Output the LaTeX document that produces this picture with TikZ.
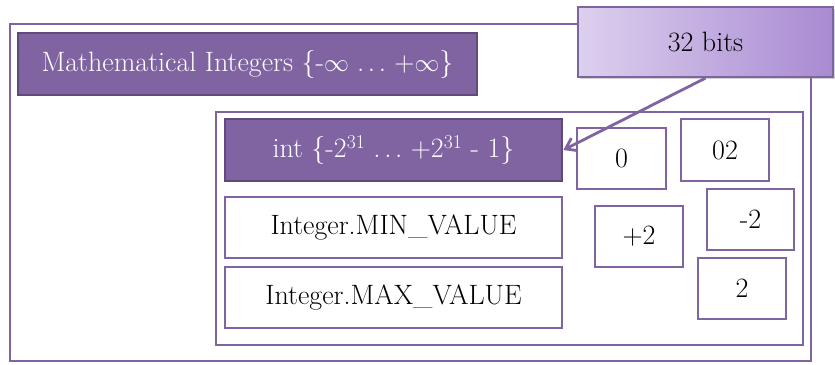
\documentclass[tikz,border=0pt]{standalone}
\usetikzlibrary{arrows.meta,shadows}
\definecolor{plum}{HTML}{8064A2}
\definecolor{plumdark}{HTML}{5F4A7B}
\definecolor{plumlight}{HTML}{DCD0EE}
\definecolor{plummid}{HTML}{A98AD2}
\tikzset{
  frame/.style={draw=plum, line width=2.8pt, inner sep=0pt},
  darkbox/.style={draw=plumdark, fill=plum, line width=2.8pt, text=white, font=\fontsize{28}{32}\selectfont},
  valbox/.style={draw=plum, fill=white, line width=2.8pt, font=\fontsize{28}{32}\selectfont},
  note/.style={draw=plum, line width=2.2pt, left color=plumlight, right color=plummid,
    drop shadow={shadow xshift=1.5pt, shadow yshift=-2pt, opacity=0.35},
    font=\fontsize{28}{32}\selectfont},
  pointer/.style={draw=plum, line width=2.8pt, -{Straight Barb[length=10pt,width=14pt]}}
}
\begin{document}
\begin{tikzpicture}[x=1pt, y=-1pt]
  \useasboundingbox (0,0) rectangle (835,364);
  % frames
  \node[frame, minimum width=801, minimum height=337] (outer) at (410.5,192.5) {};
  \node[frame, minimum width=587, minimum height=233] (inner) at (509.5,228.5) {};
  % type boxes
  \node[darkbox, minimum width=459, minimum height=62] (math) at (247.5,64) {Mathematical Integers \{-$\infty$ $\ldots$ +$\infty$\}};
  \node[darkbox, minimum width=337, minimum height=62] (int) at (393.5,150) {int \{-2\textsuperscript{31} $\ldots$ +2\textsuperscript{31} - 1\}};
  \node[valbox, minimum width=337, minimum height=61] (minval) at (393.5,227.5) {Integer.MIN\_VALUE};
  \node[valbox, minimum width=337, minimum height=61] (maxval) at (393.5,297.5) {Integer.MAX\_VALUE};
  % values
  \node[valbox, minimum width=89, minimum height=61] (zero) at (621.5,158.5) {0};
  \node[valbox, minimum width=88, minimum height=62] (zerotwo) at (725,150) {02};
  \node[valbox, minimum width=88, minimum height=61] (plustwo) at (639,236.5) {+2};
  \node[valbox, minimum width=87, minimum height=61] (minustwo) at (750.5,219.5) {-2};
  \node[valbox, minimum width=88, minimum height=61] (two) at (742,288.5) {2};
  % callout
  \node[note, minimum width=255, minimum height=70] (bits) at (705.5,42) {32 bits};
  \draw[pointer] (bits.south) -- (int.east);
\end{tikzpicture}
\end{document}
